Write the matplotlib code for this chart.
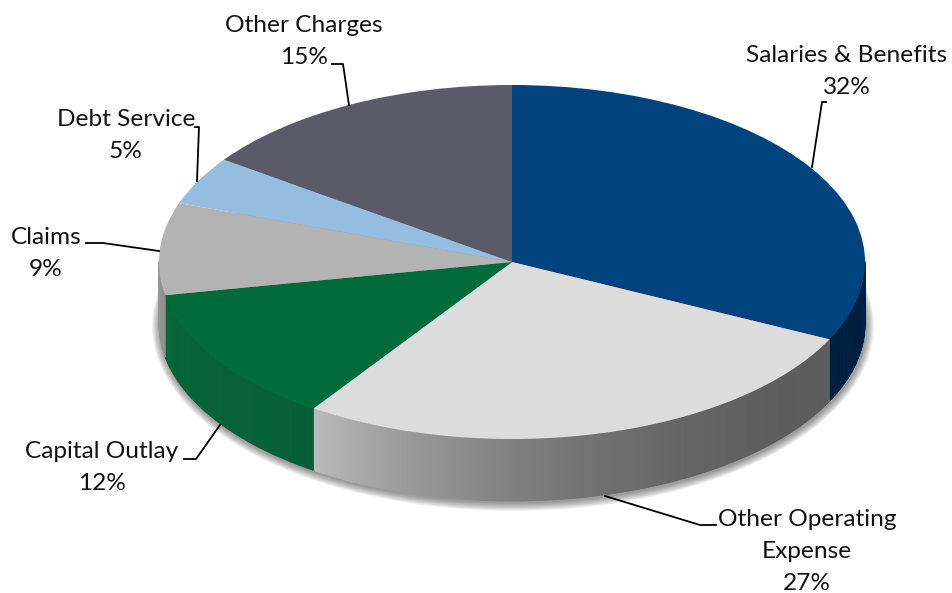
import numpy as np
import matplotlib
matplotlib.use("Agg")
import matplotlib.pyplot as plt
from matplotlib.colors import to_rgb
from matplotlib.patches import Ellipse

plt.rcParams['font.family'] = ['Lato', 'DejaVu Sans']

categories = ['Salaries & Benefits', 'Other Operating\nExpense', 'Capital Outlay', 'Claims', 'Debt Service', 'Other Charges']
values = [32.2, 27.3, 12.5, 8.4, 4.4, 15.2]
pct_labels = ['32%', '27%', '12%', '9%', '5%', '15%']

top_colors = ['#00437f', '#dcdcdc', '#016b3d', '#b3b3b3', '#95bde0', '#5b5a68']
# side colours, start and end of each slice going clockwise
side_colors = [('#00264f', '#001e3e'), ('#5c5c5c', '#bababa'), ('#05603a', '#06653a'),
               ('#8f8f8f', '#a5a5a5'), ('#7da3c4', '#7da3c4'), ('#4a4a55', '#4a4a55')]
side_gamma = [1, 2.2, 1, 1, 1, 1]

W, H = 953, 593
cx, cy, rx, ry = 512, 262, 353, 177
depth = 62 / ry

fig = plt.figure(figsize=(W / 100, H / 100), dpi=100)
ax = fig.add_axes([0, 0, 1, 1])

wedges, _ = ax.pie(values, colors=top_colors, startangle=90, counterclock=False, radius=1,
                   wedgeprops={'linewidth': 0, 'zorder': 5})
ax.set_aspect('auto')
ax.set_xlim(-cx / rx, (W - cx) / rx)
ax.set_ylim((cy - H) / ry, cy / ry)

# soft shadow under the disc
for e in np.linspace(8, 0, 12):
    ax.add_patch(Ellipse((1 / rx, -depth - 2 / ry), 2 * (rx + e) / rx, 2 * (ry + e) / ry,
                         color='#444444', alpha=0.06, lw=0, zorder=1))

# side wall, cut in thin strips to get the gradient
start = 90.0
for val, (c0, c1), g in zip(values, side_colors, side_gamma):
    end = start - val / sum(values) * 360
    th = np.linspace(start, end, max(int(val * 5), 4))
    c0, c1 = np.array(to_rgb(c0)), np.array(to_rgb(c1))
    for i in range(len(th) - 1):
        a, b = th[i], th[i + 1]
        if np.sin(np.radians(a)) > 0 and np.sin(np.radians(b)) > 0:
            continue
        col = c0 + (c1 - c0) * (i / (len(th) - 2)) ** g
        arc = np.radians(np.linspace(a, b, 5))
        x = np.cos(arc)
        y = np.sin(arc)
        ax.fill(np.r_[x, x[::-1]], np.r_[y, y[::-1] - depth], facecolor=col, edgecolor=col, lw=0.6, zorder=2)
    start = end

# labels and leader lines in image pixels
ov = fig.add_axes([0, 0, 1, 1])
ov.set_xlim(0, W)
ov.set_ylim(H, 0)
ov.axis('off')

label_pos = [(847, 56), (807, 520), (102, 451), (46, 237), (126, 120), (304, 26)]
leaders = [[(826, 102), (822, 102), (812, 167)],
           [(716, 525), (700, 525), (605, 496)],
           [(184, 459), (196, 459), (220, 425)],
           [(86, 243), (103, 243), (159, 251)],
           [(195, 127), (199, 127), (197, 181)],
           [(332, 64), (343, 64), (349, 105)]]

for name, pct, (x, y), pts in zip(categories, pct_labels, label_pos, leaders):
    lines = name.split('\n') + [pct]
    for i, s in enumerate(lines):
        ov.text(x, y + i * 32, s, ha='center', va='center', fontsize=17.6, color='#111111')
    ov.plot([p[0] for p in pts], [p[1] for p in pts], color='black', lw=1.3)

fig.savefig('out.png', dpi=100)
